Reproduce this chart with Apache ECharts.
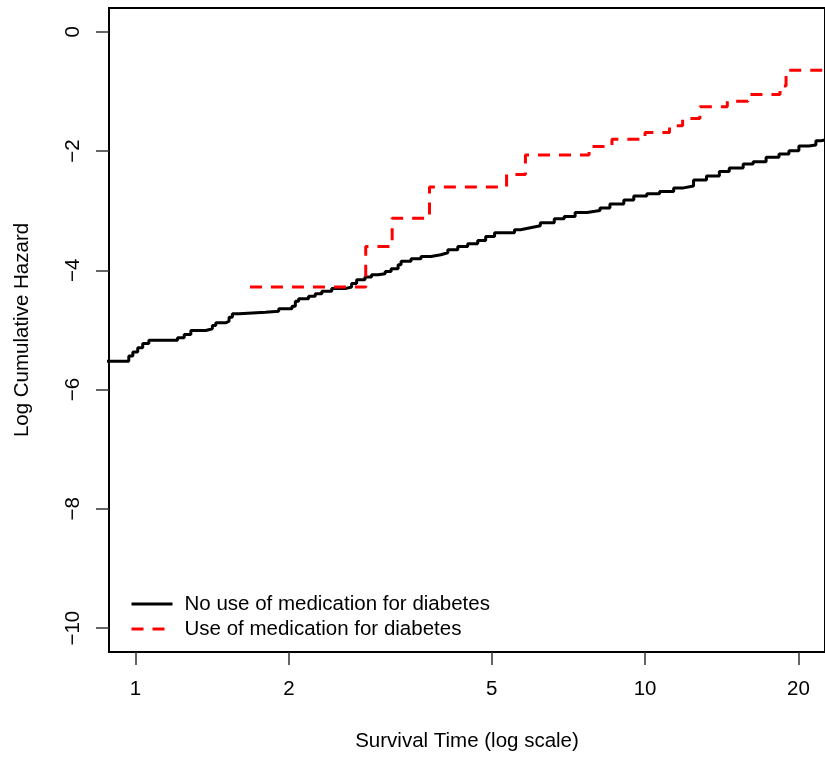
<!DOCTYPE html>
<html>
<head>
<meta charset="utf-8">
<title>Log Cumulative Hazard</title>
<script src="https://cdn.jsdelivr.net/npm/echarts@6/dist/echarts.min.js"></script>
<style>
  html, body { margin: 0; padding: 0; background: #fff; }
  #chart { width: 825px; height: 757px; }
</style>
</head>
<body>
<div id="chart"></div>
<script>
// Step points: each value holds from its time until the next time.
const noMedTime = [0.85, 0.970, 0.988, 1.010, 1.033, 1.062, 1.209, 1.246, 1.284, 1.374, 1.415, 1.437,
  1.503, 1.526, 1.549, 1.596, 1.799, 1.910, 2.028, 2.059, 2.090, 2.186, 2.253, 2.321, 2.427,
  2.578, 2.655, 2.716, 2.820, 2.905, 2.994, 3.090, 3.174, 3.276, 3.320, 3.473, 3.633, 3.800,
  3.974, 4.101, 4.290, 4.487, 4.694, 4.866, 5.066, 5.543, 5.695, 5.956, 6.230, 6.635, 6.940,
  7.291, 7.695, 8.157, 8.532, 9.085, 9.503, 10.08, 10.68, 11.38, 11.90, 12.45, 13.20, 13.99,
  14.63, 15.58, 16.30, 17.28, 18.32, 19.16, 20.04, 20.97, 21.64, 22.13, 23.0];
const noMedLogH = [-5.522, -5.438, -5.371, -5.298, -5.226, -5.171, -5.130, -5.075, -5.008, -4.980, -4.925, -4.880,
  -4.853, -4.786, -4.729, -4.702, -4.686, -4.645, -4.602, -4.518, -4.478, -4.435, -4.390, -4.351, -4.306,
  -4.278, -4.222, -4.156, -4.110, -4.072, -4.055, -4.017, -3.972, -3.905, -3.849, -3.804, -3.766, -3.737,
  -3.704, -3.654, -3.599, -3.554, -3.498, -3.431, -3.370, -3.319, -3.286, -3.253, -3.202, -3.135, -3.097,
  -3.030, -2.997, -2.952, -2.885, -2.818, -2.751, -2.717, -2.679, -2.617, -2.584, -2.483, -2.416, -2.344,
  -2.283, -2.216, -2.177, -2.104, -2.048, -1.993, -1.915, -1.898, -1.826, -1.803, -1.803];

const medTime = [1.677, 2.830, 3.189, 3.775, 5.348, 5.824, 7.765, 8.610, 10.00, 11.17, 11.85, 12.81,
  14.50, 15.92, 18.40, 18.91, 23.0];
const medLogH = [-4.278, -3.599, -3.124, -2.600, -2.391, -2.065, -1.923, -1.803, -1.686, -1.575, -1.452, -1.258,
  -1.162, -1.050, -0.906, -0.644, -0.644];

const xTicks = [1, 2, 5, 10, 20];
const yTicks = [0, -2, -4, -6, -8, -10];

const seriesNames = ['No use of medication for diabetes', 'Use of medication for diabetes'];

const zip = (xs, ys) => xs.map((x, i) => [x, ys[i]]);
const FONT = 'Liberation Sans, Arial, sans-serif';
const FS = 20.5;

const chart = echarts.init(document.getElementById('chart'), null, { renderer: 'canvas' });
chart.setOption({
  animation: false,
  backgroundColor: '#ffffff',
  grid: {
    left: 109, top: 8, width: 720, height: 645,
    show: true, borderColor: '#000', borderWidth: 2, backgroundColor: 'transparent',
    containLabel: false
  },
  xAxis: {
    type: 'log', logBase: 10, min: 0.887, max: 22.55,
    name: 'Survival Time (log scale)', nameLocation: 'middle', nameGap: 79,
    nameTextStyle: { fontFamily: FONT, fontSize: FS, color: '#000' },
    axisLine: { show: false, onZero: false },
    axisTick: { show: true, inside: false, length: 13, customValues: xTicks,
      lineStyle: { color: '#333', width: 1.5 } },
    axisLabel: { customValues: xTicks, margin: 27, fontFamily: FONT, fontSize: FS, color: '#000',
      formatter: v => String(v) },
    splitLine: { show: false },
    minorTick: { show: false }
  },
  yAxis: {
    type: 'value', min: -10.4, max: 0.4,
    name: 'Log Cumulative Hazard', nameLocation: 'middle', nameGap: 76,
    nameTextStyle: { fontFamily: FONT, fontSize: FS, color: '#000' },
    axisLine: { show: false, onZero: false },
    axisTick: { show: true, inside: false, length: 13, customValues: yTicks,
      lineStyle: { color: '#333', width: 1.5 } },
    axisLabel: { customValues: yTicks, rotate: 90, margin: 25, fontFamily: FONT, fontSize: FS, color: '#000',
      formatter: v => (v < 0 ? '\u2212' + Math.abs(v) : String(v)) },
    splitLine: { show: false }
  },
  legend: {
    orient: 'vertical', left: 125, top: 588,
    itemWidth: 41, itemHeight: 14, itemGap: 3,
    itemStyle: { opacity: 0 },
    lineStyle: { width: 3 },
    textStyle: { fontFamily: FONT, fontSize: FS, color: '#000', lineHeight: 22, padding: [0, 0, 0, 7] },
    data: seriesNames,
    selectedMode: false
  },
  series: [
    {
      name: seriesNames[0], type: 'line', step: 'end', symbol: 'none', clip: true,
      data: zip(noMedTime, noMedLogH),
      lineStyle: { color: '#000', width: 3 },
      itemStyle: { color: '#000' }
    },
    {
      name: seriesNames[1], type: 'line', step: 'end', symbol: 'none', clip: true,
      data: zip(medTime, medLogH),
      lineStyle: { color: '#ff0000', width: 3, type: [12, 9] },
      itemStyle: { color: '#ff0000' }
    }
  ]
});
</script>
</body>
</html>
